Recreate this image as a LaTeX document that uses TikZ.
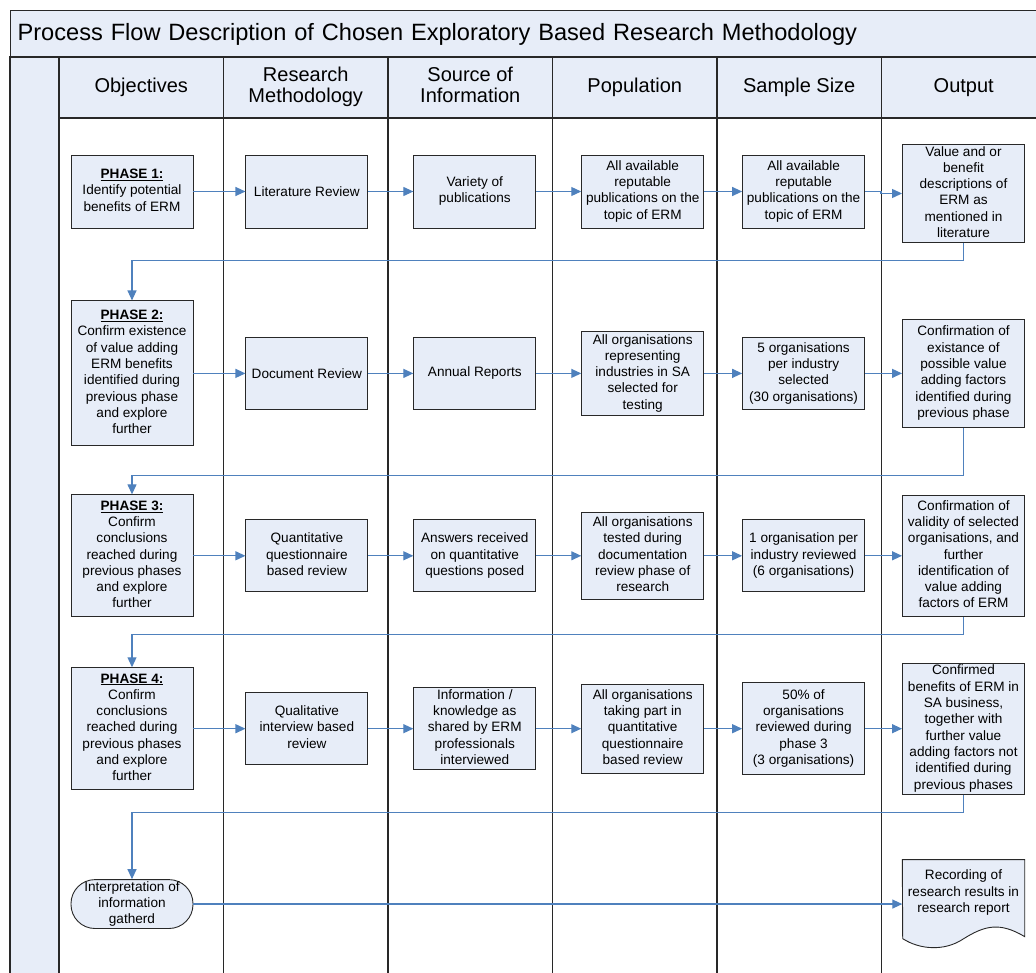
\documentclass[tikz,border=0pt]{standalone}
\usepackage{fontspec}
\setmainfont{Liberation Sans}
\usepackage{tikz}
\usetikzlibrary{arrows, arrows.meta}
\usetikzlibrary{positioning}
\definecolor{boxblue}{RGB}{231,237,248}
\definecolor{flowblue}{RGB}{79,129,189}
\definecolor{laneline}{RGB}{40,40,40}
\setlength{\tabcolsep}{0pt}
\newcommand{\boxfont}{\fontsize{13.6}{16.3}\selectfont}
\pgfdeclarelayer{background}
\pgfsetlayers{background,main}
\tikzset{
  lane/.style={draw=laneline, line width=1.3pt},
  headcell/.style={
    lane, fill=boxblue, outer sep=0pt,
    minimum width=164.5pt, minimum height=61pt,
    font=\fontsize{20}{21}\selectfont
  },
  stepbox/.style={
    draw=laneline, line width=0.9pt, fill=boxblue,
    inner sep=0pt, minimum width=122pt, font=\boxfont
  },
  flow/.style={
    draw=flowblue, line width=1.2pt,
    -{Triangle[length=10pt,width=9pt]}
  }
}

\begin{document}
\begin{tikzpicture}[x=1pt, y=-1pt]
\useasboundingbox (0,0) rectangle (1036,973);

% Title bar
\node [lane, fill=boxblue,
    anchor=north west,
    minimum height=47pt,
    text width=1020pt, inner xsep=7pt, align=left,
    font=\fontsize{23.6}{26}\selectfont
] (title) at (10,10) {Process Flow Description of Chosen Exploratory Based Research Methodology};

% Lane band
\draw[lane, fill=boxblue] (10,57) rectangle (59,990);

% Column headers
\node [headcell] (hObj) at (141.25,87.5) {Objectives};
\node [headcell, right=0pt of hObj] (hMeth) {\begin{tabular}{c} Research \\ Methodology \end{tabular}};
\node [headcell, right=0pt of hMeth] (hSrc) {\begin{tabular}{c} Source of \\ Information \end{tabular}};
\node [headcell, right=0pt of hSrc] (hPop) {Population};
\node [headcell, right=0pt of hPop] (hSize) {Sample Size};
\node [headcell, right=0pt of hSize] (hOut) {Output};

\foreach \h in {hObj,hMeth,hSrc,hPop,hSize,hOut}
    \draw[lane] (\h.south west) -- ++(0,880);

% Phase 1
\node [stepbox,
    minimum height=73pt
] (phase1) at (132,191.5) {\begin{tabular}{c} \underline{\textbf{PHASE 1:}} \\ Identify potential \\ benefits of ERM \end{tabular}};

\node [stepbox,
    minimum height=73pt,
    right=52pt of phase1
] (lit) {Literature Review};

\node [stepbox,
    minimum height=73pt,
    right=45pt of lit
] (src1) {\begin{tabular}{c} Variety of \\ publications \end{tabular}};

\node [stepbox,
    minimum height=73pt,
    right=45pt of src1
] (pop1) {\begin{tabular}{c} All available \\ reputable \\ publications on the \\ topic of ERM \end{tabular}};

\node [stepbox,
    minimum height=73pt,
    right=38pt of pop1
] (size1) {\begin{tabular}{c} All available \\ reputable \\ publications on the \\ topic of ERM \end{tabular}};

\node [stepbox,
    minimum height=97pt,
    right=37pt of size1, yshift=-2pt
] (out1) {\begin{tabular}{c} Value and or \\ benefit \\ descriptions of \\ ERM as \\ mentioned in \\ literature \end{tabular}};

% Phase 2
\node [stepbox,
    minimum height=145pt,
    below=72pt of phase1
] (phase2) {\begin{tabular}{c} \underline{\textbf{PHASE 2:}} \\ Confirm existence \\ of value adding \\ ERM benefits \\ identified during \\ previous phase \\ and explore \\ further \end{tabular}};

\node [stepbox,
    minimum height=72pt,
    right=52pt of phase2
] (docrev) {Document Review};

\node [stepbox,
    minimum height=72pt,
    right=45pt of docrev
] (src2) {Annual Reports};

\node [stepbox,
    minimum height=84pt,
    right=45pt of src2
] (pop2) {\begin{tabular}{c} All organisations \\ representing \\ industries in SA \\ selected for \\ testing \end{tabular}};

\node [stepbox,
    minimum height=72pt,
    right=38pt of pop2
] (size2) {\begin{tabular}{c} 5 organisations \\ per industry \\ selected \\ (30 organisations) \end{tabular}};

\node [stepbox,
    minimum height=108pt,
    right=37pt of size2
] (out2) {\begin{tabular}{c} Confirmation of \\ existance of \\ possible value \\ adding factors \\ identified during \\ previous phase \end{tabular}};

% Phase 3
\node [stepbox,
    minimum height=122pt,
    below=48pt of phase2
] (phase3) {\begin{tabular}{c} \underline{\textbf{PHASE 3:}} \\ Confirm \\ conclusions \\ reached during \\ previous phases \\ and explore \\ further \end{tabular}};

\node [stepbox,
    minimum height=72pt,
    right=52pt of phase3
] (quant) {\begin{tabular}{c} Quantitative \\ questionnaire \\ based review \end{tabular}};

\node [stepbox,
    minimum height=72pt,
    right=45pt of quant
] (src3) {\begin{tabular}{c} Answers received \\ on quantitative \\ questions posed \end{tabular}};

\node [stepbox,
    minimum height=87pt,
    right=45pt of src3
] (pop3) {\begin{tabular}{c} All organisations \\ tested during \\ documentation \\ review phase of \\ research \end{tabular}};

\node [stepbox,
    minimum height=72pt,
    right=38pt of pop3
] (size3) {\begin{tabular}{c} 1 organisation per \\ industry reviewed \\ (6 organisations) \end{tabular}};

\node [stepbox,
    minimum height=121pt,
    right=37pt of size3
] (out3) {\begin{tabular}{c} Confirmation of \\ validity of selected \\ organisations, and \\ further \\ identification of \\ value adding \\ factors of ERM \end{tabular}};

% Phase 4
\node [stepbox,
    minimum height=122pt,
    below=50pt of phase3
] (phase4) {\begin{tabular}{c} \underline{\textbf{PHASE 4:}} \\ Confirm \\ conclusions \\ reached during \\ previous phases \\ and explore \\ further \end{tabular}};

\node [stepbox,
    minimum height=72pt,
    right=52pt of phase4
] (qual) {\begin{tabular}{c} Qualitative \\ interview based \\ review \end{tabular}};

\node [stepbox,
    minimum height=82pt,
    right=45pt of qual
] (src4) {\begin{tabular}{c} Information / \\ knowledge as \\ shared by ERM \\ professionals \\ interviewed \end{tabular}};

\node [stepbox,
    minimum height=89pt,
    right=45pt of src4
] (pop4) {\begin{tabular}{c} All organisations \\ taking part in \\ quantitative \\ questionnaire \\ based review \end{tabular}};

\node [stepbox,
    minimum height=92pt,
    right=38pt of pop4
] (size4) {\begin{tabular}{c} 50\% of \\ organisations \\ reviewed during \\ phase 3 \\ (3 organisations) \end{tabular}};

\node [stepbox,
    minimum height=131pt,
    right=37pt of size4
] (out4) {\begin{tabular}{c} Confirmed \\ benefits of ERM in \\ SA business, \\ together with \\ further value \\ adding factors not \\ identified during \\ previous phases \end{tabular}};

% Interpretation and report
\node [stepbox,
    rounded corners=24pt,
    minimum height=48pt,
    below=89pt of phase4
] (interp) {\begin{tabular}{c} Interpretation of \\ information \\ gatherd \end{tabular}};

\node [inner sep=0pt,
    minimum width=122pt,
    minimum height=66pt,
    font=\boxfont,
    below=65pt of out4
] (report) {\begin{tabular}{c} Recording of \\ research results in \\ research report \end{tabular}};

\begin{pgfonlayer}{background}
\draw[draw=laneline, line width=0.9pt, fill=boxblue]
    (report.north west) -- (report.north east) -- ++(0,77)
    .. controls +(-25,-15) and +(21,-13) .. ++(-61,2)
    .. controls +(-19,13) and +(17,11) .. ++(-61,0) -- cycle;
\end{pgfonlayer}

% Arrows along the rows
\draw[flow] (phase1.east) -- (lit.west);
\draw[flow] (lit.east) -- (src1.west);
\draw[flow] (src1.east) -- (pop1.west);
\draw[flow] (pop1.east) -- (size1.west);
\draw[flow] (size1.east) -- ++(16,0) |- (out1.west);

\draw[flow] (phase2.east) -- (docrev.west);
\draw[flow] (docrev.east) -- (src2.west);
\draw[flow] (src2.east) -- (pop2.west);
\draw[flow] (pop2.east) -- (size2.west);
\draw[flow] (size2.east) -- (out2.west);

\draw[flow] (phase3.east) -- (quant.west);
\draw[flow] (quant.east) -- (src3.west);
\draw[flow] (src3.east) -- (pop3.west);
\draw[flow] (pop3.east) -- (size3.west);
\draw[flow] (size3.east) -- (out3.west);

\draw[flow] (phase4.east) -- (qual.west);
\draw[flow] (qual.east) -- (src4.west);
\draw[flow] (src4.east) -- (pop4.west);
\draw[flow] (pop4.east) -- (size4.west);
\draw[flow] (size4.east) -- (out4.west);

% Return lines to the next phase
\draw[flow] (out1.south) -- ++(0,18) -| (phase2.north);
\draw[flow] (out2.south) -- ++(0,48) -| (phase3.north);
\draw[flow] (out3.south) -- ++(0,18) -| (phase4.north);
\draw[flow] (out4.south) -- ++(0,18) -| (interp.north);

\draw[flow] (interp.east) -- (interp.east -| report.west);

\end{tikzpicture}
\end{document}
